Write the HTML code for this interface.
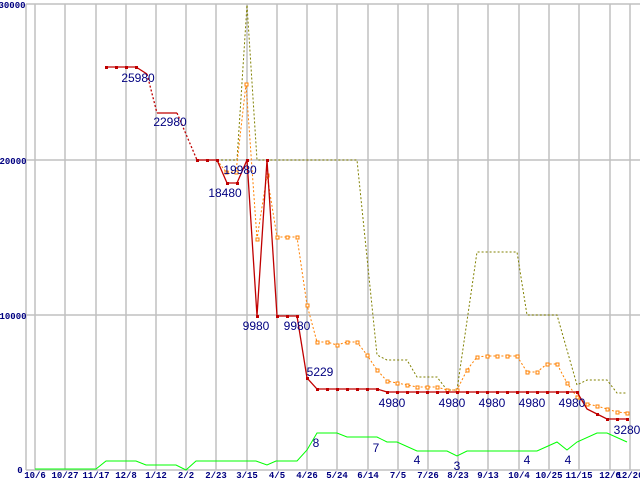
<!DOCTYPE html><html><head><style>body{margin:0;background:#fff}</style></head><body>
<svg width="640" height="480" xmlns="http://www.w3.org/2000/svg" font-family="Liberation Mono, DejaVu Sans Mono, monospace">
<g stroke="#c0c0c0" stroke-width="1.5" fill="none">
<line x1="26" y1="4" x2="640" y2="4"/><line x1="26" y1="160" x2="640" y2="160"/><line x1="26" y1="315" x2="640" y2="315"/><line x1="26" y1="470" x2="640" y2="470"/>
<line x1="26" y1="4" x2="26" y2="470"/>
<path d="M35 4V470M65 4V470M96 4V470M126 4V470M156 4V470M186 4V470M216 4V470M247 4V470M277 4V470M307 4V470M337 4V470M368 4V470M398 4V470M428 4V470M458 4V470M488 4V470M519 4V470M549 4V470M579 4V470M610 4V470M630 4V470"/>
</g>
<g fill="#000080" font-size="9" font-weight="bold" text-anchor="middle">
<text x="12" y="8" font-size="9">30000</text><text x="13" y="164">20000</text><text x="13" y="319">10000</text><text x="20" y="473">0</text>
<text x="35" y="478">10/6</text><text x="65" y="478">10/27</text><text x="96" y="478">11/17</text><text x="126" y="478">12/8</text><text x="156" y="478">1/12</text><text x="186" y="478">2/2</text><text x="216" y="478">2/23</text><text x="247" y="478">3/15</text><text x="277" y="478">4/5</text><text x="307" y="478">4/26</text><text x="337" y="478">5/24</text><text x="368" y="478">6/14</text><text x="398" y="478">7/5</text><text x="428" y="478">7/26</text><text x="458" y="478">8/23</text><text x="488" y="478">9/13</text><text x="519" y="478">10/4</text><text x="549" y="478">10/25</text><text x="579" y="478">11/15</text><text x="610" y="478">12/6</text><text x="630" y="478">12/20</text>
</g>
<polyline fill="none" stroke="#808000" stroke-width="1" stroke-dasharray="2,2" points="197,160 237,160 247,5 257,160 357,160 377,355 387,360 407,360 417,377 437,377 447,390 457,390 477,252 517,252 527,315 557,315 577,385 587,380 607,380 617,393 627,393"/>
<polyline fill="none" stroke="#ff8000" stroke-width="1" stroke-dasharray="2,2" points="217,160 226,172 236,172 246,84 257,239 267,175 277,237 287,237 297,237 307,305 317,342 327,342 337,345 347,342 357,342 367,355 377,370 387,381 397,383 407,385 417,387 427,387 437,387 447,390 457,390 467,370 477,357 487,356 517,356 527,372 537,372 547,364 557,364 567,383 577,397 587,404 597,406 607,409 617,412 627,413"/>
<g fill="#fff" stroke="#ff8000" stroke-width="1">
<rect x="225" y="171" width="3" height="3"/><rect x="235" y="171" width="3" height="3"/><rect x="245" y="83" width="3" height="3"/><rect x="256" y="238" width="3" height="3"/><rect x="266" y="174" width="3" height="3"/><rect x="276" y="236" width="3" height="3"/><rect x="286" y="236" width="3" height="3"/><rect x="296" y="236" width="3" height="3"/><rect x="306" y="304" width="3" height="3"/><rect x="316" y="341" width="3" height="3"/><rect x="326" y="341" width="3" height="3"/><rect x="336" y="344" width="3" height="3"/><rect x="346" y="341" width="3" height="3"/><rect x="356" y="341" width="3" height="3"/><rect x="366" y="354" width="3" height="3"/><rect x="376" y="369" width="3" height="3"/><rect x="386" y="380" width="3" height="3"/><rect x="396" y="382" width="3" height="3"/><rect x="406" y="384" width="3" height="3"/><rect x="416" y="386" width="3" height="3"/><rect x="426" y="386" width="3" height="3"/><rect x="436" y="386" width="3" height="3"/><rect x="446" y="389" width="3" height="3"/><rect x="456" y="389" width="3" height="3"/><rect x="466" y="369" width="3" height="3"/><rect x="476" y="356" width="3" height="3"/><rect x="486" y="355" width="3" height="3"/><rect x="496" y="355" width="3" height="3"/><rect x="506" y="355" width="3" height="3"/><rect x="516" y="355" width="3" height="3"/><rect x="526" y="371" width="3" height="3"/><rect x="536" y="371" width="3" height="3"/><rect x="546" y="363" width="3" height="3"/><rect x="556" y="363" width="3" height="3"/><rect x="566" y="382" width="3" height="3"/><rect x="576" y="396" width="3" height="3"/><rect x="586" y="403" width="3" height="3"/><rect x="596" y="405" width="3" height="3"/><rect x="606" y="408" width="3" height="3"/><rect x="616" y="411" width="3" height="3"/><rect x="626" y="412" width="3" height="3"/>
</g>
<polyline fill="none" stroke="#00ff00" stroke-width="1" points="35,469 96,469 106,461 136,461 146,465 176,465 186,470 196,461 256,461 267,465 276,461 297,461 307,450 317,433 337,433 347,437 377,437 387,442 397,442 417,451 447,451 457,456 467,451 537,451 557,442 567,450 577,442 597,433 607,433 627,442"/>
<polyline fill="none" stroke="#c00000" stroke-width="1.3" points="106,67 136,67 147,74"/>
<polyline fill="none" stroke="#c00000" stroke-width="1.3" stroke-dasharray="2,2" points="147,74 157,113"/>
<polyline fill="none" stroke="#c00000" stroke-width="1.3" points="157,113 177,113"/>
<polyline fill="none" stroke="#c00000" stroke-width="1.3" stroke-dasharray="2,2" points="177,113 197,160"/>
<polyline fill="none" stroke="#c00000" stroke-width="1.3" points="197,160 217,160 227,183 237,183 247,160 257,316 267,160 277,316 297,316 307,378 317,389 377,389 387,392 577,392 587,409 597,414 607,419 627,419"/>
<g fill="#c00000"><path d="M105 66h3v3h-3zM115 66h3v3h-3zM125 66h3v3h-3zM135 66h3v3h-3zM196 159h3v3h-3zM206 159h3v3h-3zM216 159h3v3h-3zM226 182h3v3h-3zM236 182h3v3h-3zM246 159h3v3h-3zM256 315h3v3h-3zM266 159h3v3h-3zM276 315h3v3h-3zM286 315h3v3h-3zM296 315h3v3h-3zM306 377h3v3h-3zM316 388h3v3h-3zM326 388h3v3h-3zM336 388h3v3h-3zM346 388h3v3h-3zM356 388h3v3h-3zM366 388h3v3h-3zM376 388h3v3h-3zM386 391h3v3h-3zM396 391h3v3h-3zM406 391h3v3h-3zM416 391h3v3h-3zM426 391h3v3h-3zM436 391h3v3h-3zM446 391h3v3h-3zM456 391h3v3h-3zM466 391h3v3h-3zM476 391h3v3h-3zM486 391h3v3h-3zM496 391h3v3h-3zM506 391h3v3h-3zM516 391h3v3h-3zM526 391h3v3h-3zM536 391h3v3h-3zM546 391h3v3h-3zM556 391h3v3h-3zM566 391h3v3h-3zM576 391h3v3h-3zM596 413h3v3h-3zM606 418h3v3h-3zM616 418h3v3h-3zM626 418h3v3h-3z"/></g>
<g fill="#000080" font-family="Liberation Sans, DejaVu Sans, sans-serif" font-size="12" text-anchor="middle">
<text x="138" y="82">25980</text><text x="170" y="126">22980</text><text x="225" y="197">18480</text><text x="240" y="174">19980</text><text x="256" y="330">9980</text><text x="297" y="330">9980</text><text x="320" y="376">5229</text>
<text x="392" y="407">4980</text><text x="452" y="407">4980</text><text x="492" y="407">4980</text><text x="532" y="407">4980</text><text x="572" y="407">4980</text><text x="627" y="434">3280</text>
<text x="316" y="447">8</text><text x="376" y="452">7</text><text x="417" y="464">4</text><text x="457" y="470">3</text><text x="527" y="464">4</text><text x="568" y="464">4</text>
</g>
</svg></body></html>
